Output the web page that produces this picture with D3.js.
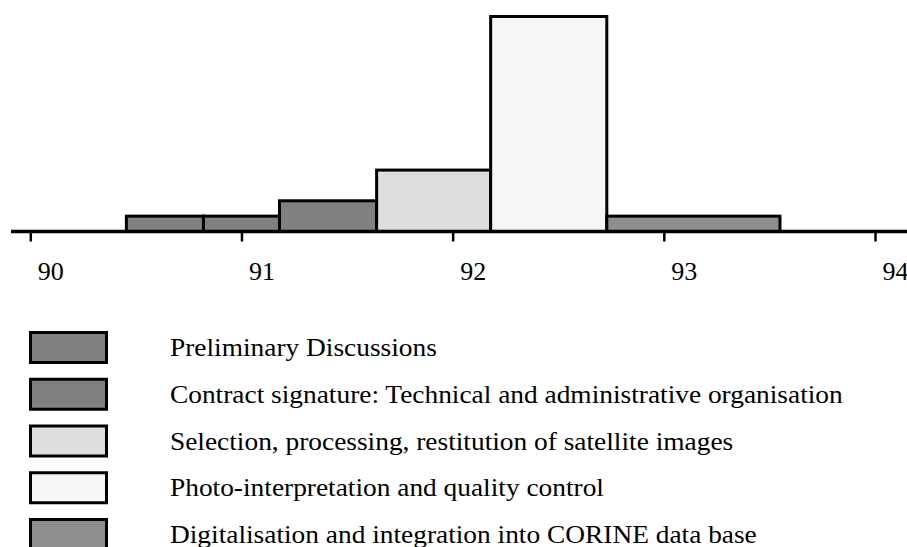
<!DOCTYPE html>
<html>
<head>
<meta charset="utf-8">
<script src="https://cdn.jsdelivr.net/npm/d3@7"></script>
<style>
  body { margin: 0; background: #fff; }
  text { font-family: "Liberation Serif", "Times New Roman", serif; fill: #000; }
</style>
</head>
<body>
<div id="chart"></div>
<script>
// phases shown in the legend
const phases = [
  "Preliminary Discussions",
  "Contract signature: Technical and administrative organisation",
  "Selection, processing, restitution of satellite images",
  "Photo-interpretation and quality control",
  "Digitalisation and integration into CORINE data base"
];
const phaseColors = ["#808080", "#808080", "#dedede", "#f6f6f6", "#8e8e8e"];

// bars along the time axis (years, 19xx)
const barStart = [90.455, 90.82, 91.18, 91.64, 92.18, 92.73];
const barEnd   = [90.82, 91.18, 91.64, 92.18, 92.73, 93.55];
const barValue = [1, 1, 2, 4, 14, 1];
const barPhase = [0, 1, 1, 2, 3, 4];

const yearTicks = [90, 91, 92, 93, 94];

const width = 907, height = 547;
const axisY = 231.5;

const svg = d3.select("#chart")
  .append("svg")
  .attr("width", width)
  .attr("height", height);

// Scales
const x = d3.scaleLinear().domain([90, 94]).range([30.3, 875]);
const y = d3.scaleLinear().domain([0, 14]).range([axisY, 16.5]);

// Bars
const bars = barStart.map((s, i) => ({ s, e: barEnd[i], v: barValue[i], p: barPhase[i] }));
svg.selectAll("rect.bar")
  .data(bars)
  .enter()
  .append("rect")
  .attr("class", "bar")
  .attr("x", d => x(d.s))
  .attr("width", d => x(d.e) - x(d.s))
  .attr("y", d => y(d.v))
  .attr("height", d => y(0) - y(d.v))
  .attr("fill", d => phaseColors[d.p])
  .attr("stroke", "#000")
  .attr("stroke-width", 3);

// Axis
const axis = svg.append("g")
  .attr("transform", `translate(0, ${axisY})`)
  .call(d3.axisBottom(x).tickValues(yearTicks).tickSize(10).tickSizeOuter(0).tickFormat(d3.format("d")))
  .attr("font-family", null)
  .attr("font-size", null);

axis.select(".domain").remove();
axis.insert("line", ":first-child")
  .attr("x1", 11).attr("x2", width)
  .attr("stroke", "#000").attr("stroke-width", 3.5);
axis.selectAll(".tick line").attr("stroke", "#000").attr("stroke-width", 2.5);
axis.selectAll(".tick text")
  .attr("y", 48)
  .attr("dy", 0)
  .attr("dx", 20)
  .style("font-size", "26px")
  .style("font-family", "'Liberation Serif', 'Times New Roman', serif")
  .attr("fill", "#000");

// Legend
const ly = d3.scalePoint().domain(phases).range([332.5, 519.5]);

const legend = svg.selectAll("g.legend")
  .data(phases)
  .enter()
  .append("g")
  .attr("class", "legend")
  .attr("transform", d => `translate(0, ${ly(d)})`);

legend.append("rect")
  .attr("x", 30.5)
  .attr("width", 76)
  .attr("height", 30)
  .attr("fill", (d, i) => phaseColors[i])
  .attr("stroke", "#000")
  .attr("stroke-width", 3);

// the original lettering is a little wider than Liberation Serif
legend.append("text")
  .attr("transform", "translate(170, 23.5) scale(1.053, 1)")
  .style("font-size", "26px")
  .text(d => d);
</script>
</body>
</html>
